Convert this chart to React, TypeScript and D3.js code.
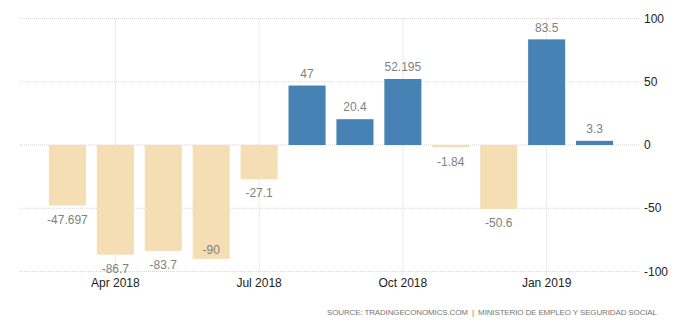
import React from "react";
import * as d3 from "d3";

const months = ["Mar 2018", "Apr 2018", "May 2018", "Jun 2018", "Jul 2018", "Aug 2018", "Sep 2018", "Oct 2018", "Nov 2018", "Dec 2018", "Jan 2019", "Feb 2019"];
const values = [-47.697, -86.7, -83.7, -90, -27.1, 47, 20.4, 52.195, -1.84, -50.6, 83.5, 3.3];
const valueLabels = ["-47.697", "-86.7", "-83.7", "-90", "-27.1", "47", "20.4", "52.195", "-1.84", "-50.6", "83.5", "3.3"];
const xTickMonths = ["Apr 2018", "Jul 2018", "Oct 2018", "Jan 2019"];
const yTicks = [100, 50, 0, -50, -100];
const source = "SOURCE: TRADINGECONOMICS.COM  |  MINISTERIO DE EMPLEO Y SEGURIDAD SOCIAL";

export default function App() {
  const W = 700, H = 326;
  const gridLeft = 20, gridRight = 640;
  const x = d3.scaleBand<string>().domain(months).range([43.5, 618.5]).paddingInner(0.227).paddingOuter(0.113);
  const y = d3.scaleLinear().domain([-100, 100]).range([271.5, 18.5]);
  const font = "'Liberation Sans', Arial, sans-serif";
  return (
    <svg width={W} height={H} style={{ position: "absolute", left: 0, top: 0, background: "#fff" }}>
      {yTicks.map((t) => (
        <g key={t}>
          <line x1={gridLeft} x2={gridRight} y1={y(t)} y2={y(t)} stroke="#d6d6d6" strokeDasharray="1,1" />
          <text x={644} y={y(t)} dy="0.35em" fontFamily={font} fontSize={12} fill="#222">{t}</text>
        </g>
      ))}
      {xTickMonths.map((m) => {
        const cx = (x(m) as number) + x.bandwidth() / 2;
        return (
          <g key={m}>
            <line x1={cx} x2={cx} y1={y(100)} y2={y(-100) + 4} stroke="#d6d6d6" strokeDasharray="1,1" />
            <text x={cx} y={283} dy="0.35em" textAnchor="middle" fontFamily={font} fontSize={12} fill="#222">{m}</text>
          </g>
        );
      })}
      {months.map((m, i) => {
        const v = values[i];
        const bx = x(m) as number;
        const top = y(Math.max(v, 0));
        const bot = y(Math.min(v, 0));
        const cx = bx + x.bandwidth() / 2;
        let ly: number;
        if (v >= 0) ly = top - 12;
        else ly = bot + 14 > 270 ? bot - 9 : bot + 14;
        return (
          <g key={m}>
            <rect x={bx} y={top} width={x.bandwidth()} height={Math.max(bot - top, 1)} fill={v >= 0 ? "#4682b4" : "#f5deb3"} />
            <text x={cx} y={ly} dy="0.35em" textAnchor="middle" fontFamily={font} fontSize={12} fill="#7f7f7f">{valueLabels[i]}</text>
          </g>
        );
      })}
      <text x={327} y={312} dy="0.35em" fontFamily={font} fontSize={8} textLength={330} lengthAdjust="spacing" fill="#777" style={{ whiteSpace: "pre" }}>{source}</text>
    </svg>
  );
}
